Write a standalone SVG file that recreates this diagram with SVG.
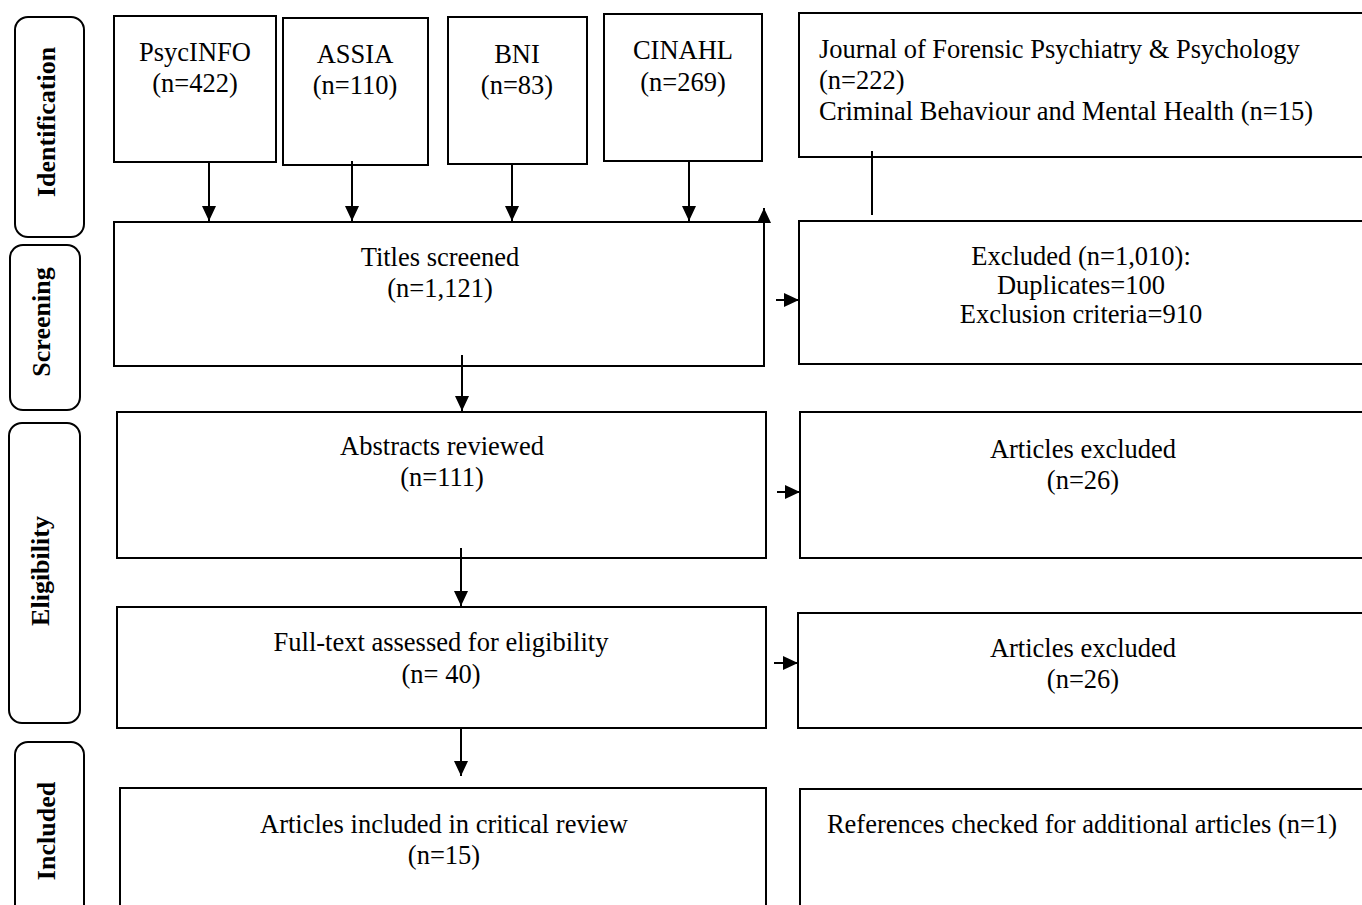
<svg xmlns="http://www.w3.org/2000/svg" width="1362" height="905" viewBox="0 0 1362 905">
<style>
.box{fill:#fff;stroke:#000;stroke-width:2}
.stage{fill:#fff;stroke:#000;stroke-width:2}
.t{font-family:"Liberation Serif","Times New Roman",serif;font-size:26.5px;fill:#000}
.c{text-anchor:middle}
.lbl{font-family:"Liberation Serif","Times New Roman",serif;font-size:26px;font-weight:bold;fill:#000;text-anchor:middle}
.ln{stroke:#000;stroke-width:2;fill:none}
</style>
<defs>
<marker id="ah" markerUnits="userSpaceOnUse" markerWidth="15" markerHeight="14" refX="15" refY="7" orient="auto">
<path d="M0,0 L15,7 L0,14 z" fill="#000"/>
</marker>
</defs>
<rect width="1362" height="905" fill="#fff"/>

<g id="stage-identification">
<rect class="stage" x="15" y="17" width="69" height="220" rx="13"/>
<text class="lbl" transform="translate(55,122) rotate(-90)">Identification</text>
</g>
<g id="stage-screening">
<rect class="stage" x="10" y="245" width="70" height="165" rx="13"/>
<text class="lbl" transform="translate(50,322) rotate(-90)">Screening</text>
</g>
<g id="stage-eligibility">
<rect class="stage" x="9" y="423" width="71" height="300" rx="13"/>
<text class="lbl" transform="translate(49,571) rotate(-90)">Eligibility</text>
</g>
<g id="stage-included">
<rect class="stage" x="15" y="742" width="69" height="200" rx="13"/>
<text class="lbl" transform="translate(55,831) rotate(-90)">Included</text>
</g>

<g id="psycinfo">
<rect class="box" x="114" y="16" width="162" height="146"/>
<text class="t c" x="195" y="61">PsycINFO</text>
<text class="t c" x="195" y="92">(n=422)</text>
</g>
<g id="assia">
<rect class="box" x="283" y="18" width="145" height="147"/>
<text class="t c" x="355" y="63">ASSIA</text>
<text class="t c" x="355" y="94">(n=110)</text>
</g>
<g id="bni">
<rect class="box" x="448" y="17" width="139" height="147"/>
<text class="t c" x="517" y="63">BNI</text>
<text class="t c" x="517" y="94">(n=83)</text>
</g>
<g id="cinahl">
<rect class="box" x="604" y="14" width="158" height="147"/>
<text class="t c" x="683" y="59">CINAHL</text>
<text class="t c" x="683" y="91">(n=269)</text>
</g>
<g id="journals">
<rect class="box" x="799" y="13" width="570" height="144"/>
<text class="t" x="819" y="58">Journal of Forensic Psychiatry &amp; Psychology</text>
<text class="t" x="819" y="89">(n=222)</text>
<text class="t" x="819" y="120">Criminal Behaviour and Mental Health (n=15)</text>
</g>

<g id="titles">
<rect class="box" x="114" y="222" width="650" height="144"/>
<text class="t c" x="440" y="266">Titles screened</text>
<text class="t c" x="440" y="297">(n=1,121)</text>
</g>
<g id="excluded-titles">
<rect class="box" x="799" y="221" width="570" height="143"/>
<text class="t c" x="1081" y="265">Excluded (n=1,010):</text>
<text class="t c" x="1081" y="294">Duplicates=100</text>
<text class="t c" x="1081" y="323">Exclusion criteria=910</text>
</g>

<g id="abstracts">
<rect class="box" x="117" y="412" width="649" height="146"/>
<text class="t c" x="442" y="455">Abstracts reviewed</text>
<text class="t c" x="442" y="486">(n=111)</text>
</g>
<g id="excluded-abstracts">
<rect class="box" x="800" y="412" width="570" height="146"/>
<text class="t c" x="1083" y="458">Articles excluded</text>
<text class="t c" x="1083" y="489">(n=26)</text>
</g>

<g id="fulltext">
<rect class="box" x="117" y="607" width="649" height="121"/>
<text class="t c" x="441" y="651">Full-text assessed for eligibility</text>
<text class="t c" x="441" y="683">(n= 40)</text>
</g>
<g id="excluded-fulltext">
<rect class="box" x="798" y="613" width="570" height="115"/>
<text class="t c" x="1083" y="657">Articles excluded</text>
<text class="t c" x="1083" y="688">(n=26)</text>
</g>

<g id="included">
<rect class="box" x="120" y="788" width="646" height="150"/>
<text class="t c" x="444" y="833">Articles included in critical review</text>
<text class="t c" x="444" y="864">(n=15)</text>
</g>
<g id="references">
<rect class="box" x="800" y="789" width="570" height="150"/>
<text class="t c" x="1082" y="833">References checked for additional articles (n=1)</text>
</g>

<g id="connectors">
<line class="ln" x1="209" y1="162" x2="209" y2="221" marker-end="url(#ah)"/>
<line class="ln" x1="352" y1="161" x2="352" y2="221" marker-end="url(#ah)"/>
<line class="ln" x1="512" y1="164" x2="512" y2="221" marker-end="url(#ah)"/>
<line class="ln" x1="689" y1="161" x2="689" y2="221" marker-end="url(#ah)"/>
<line class="ln" x1="872" y1="151" x2="872" y2="215"/>
<line class="ln" x1="764" y1="366" x2="764" y2="208" marker-end="url(#ah)"/>
<line class="ln" x1="776" y1="300" x2="799" y2="300" marker-end="url(#ah)"/>
<line class="ln" x1="462" y1="355" x2="462" y2="411" marker-end="url(#ah)"/>
<line class="ln" x1="777" y1="492" x2="800" y2="492" marker-end="url(#ah)"/>
<line class="ln" x1="461" y1="548" x2="461" y2="606" marker-end="url(#ah)"/>
<line class="ln" x1="774" y1="663" x2="798" y2="663" marker-end="url(#ah)"/>
<line class="ln" x1="461" y1="728" x2="461" y2="776" marker-end="url(#ah)"/>
</g>
</svg>
